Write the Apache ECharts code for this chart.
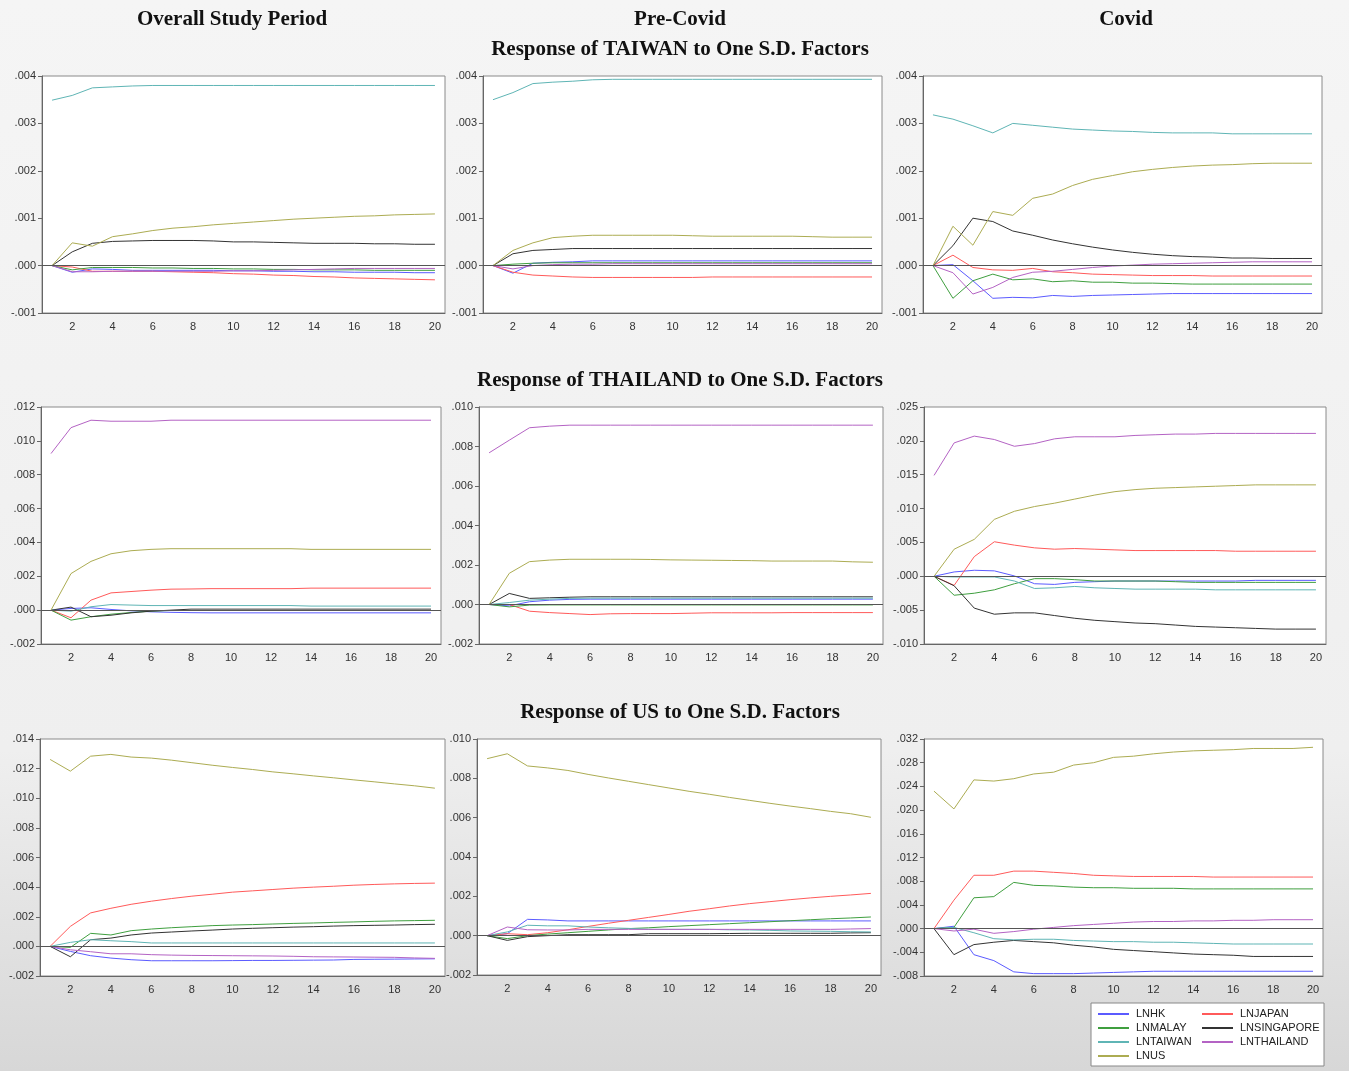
<!DOCTYPE html>
<html>
<head>
<meta charset="utf-8">
<title>Impulse responses</title>
<script src="https://cdn.jsdelivr.net/npm/echarts@6/dist/echarts.min.js"></script>
<style>
    html, body { margin: 0; padding: 0; }
    #main { width: 1349px; height: 1071px; }
</style>
</head>
<body>
<div id="main"></div>
<script>
// 系列名称与颜色 (order of rows inside each panel array)
var names = ['LNHK', 'LNJAPAN', 'LNMALAY', 'LNSINGAPORE', 'LNTAIWAN', 'LNTHAILAND', 'LNUS'];
var colors = ['#5b5bff', '#ff5a5a', '#3f9f3f', '#333333', '#5fb5b5', '#b463c4', '#acac52'];
var periods = ['1','2','3','4','5','6','7','8','9','10','11','12','13','14','15','16','17','18','19','20'];

var columnTitles = ['Overall Study Period', 'Pre-Covid', 'Covid'];
var rowTitles = ['Response of TAIWAN to One S.D. Factors', 'Response of THAILAND to One S.D. Factors', 'Response of US to One S.D. Factors'];

// y axis ranges per panel: [min, max, interval]
var yRanges = [
    [-0.001, 0.004, 0.001], [-0.001, 0.004, 0.001], [-0.001, 0.004, 0.001],
    [-0.002, 0.012, 0.002], [-0.002, 0.010, 0.002], [-0.010, 0.025, 0.005],
    [-0.002, 0.014, 0.002], [-0.002, 0.010, 0.002], [-0.008, 0.032, 0.004]
];

// 一 : TAIWAN - overall
var taiwanAll = [
    [0,-0.00014,-0.00007,-0.00008,-0.0001,-0.0001,-0.0001,-0.0001,-0.0001,-0.00011,-0.00011,-0.00012,-0.00012,-0.00013,-0.00013,-0.00014,-0.00014,-0.00014,-0.00015,-0.00015],
    [0,-0.00003,-0.00012,-0.00012,-0.00012,-0.00012,-0.00013,-0.00014,-0.00015,-0.00017,-0.00018,-0.0002,-0.00021,-0.00023,-0.00024,-0.00026,-0.00027,-0.00028,-0.00029,-0.0003],
    [0,-0.00009,-0.00004,-0.00004,-0.00004,-0.00005,-0.00005,-0.00006,-0.00006,-0.00007,-0.00007,-0.00008,-0.00008,-0.00009,-0.00009,-0.00009,-0.0001,-0.0001,-0.0001,-0.0001],
    [0,0.00029,0.00047,0.00051,0.00052,0.00053,0.00053,0.00053,0.00052,0.0005,0.0005,0.00049,0.00048,0.00047,0.00047,0.00047,0.00046,0.00046,0.00045,0.00045],
    [0.00349,0.00359,0.00375,0.00377,0.00379,0.0038,0.0038,0.0038,0.0038,0.0038,0.0038,0.0038,0.0038,0.0038,0.0038,0.0038,0.0038,0.0038,0.0038,0.0038],
    [0,-0.00013,-0.00013,-0.00012,-0.00012,-0.00012,-0.00012,-0.00012,-0.00012,-0.00011,-0.00011,-0.0001,-0.00009,-0.00008,-0.00007,-0.00006,-0.00006,-0.00006,-0.00006,-0.00006],
    [0,0.00048,0.00041,0.00061,0.00067,0.00074,0.00079,0.00082,0.00086,0.00089,0.00092,0.00095,0.00098,0.001,0.00102,0.00104,0.00105,0.00107,0.00108,0.00109]
];
// 二 : TAIWAN - pre-covid
var taiwanPre = [
    [0,-0.00016,0.00005,0.00007,0.00008,0.0001,0.0001,0.0001,0.0001,0.0001,0.0001,0.0001,0.0001,0.0001,0.0001,0.0001,0.0001,0.0001,0.0001,0.0001],
    [0,-0.00014,-0.0002,-0.00022,-0.00024,-0.00025,-0.00025,-0.00025,-0.00025,-0.00025,-0.00025,-0.00024,-0.00024,-0.00024,-0.00024,-0.00024,-0.00024,-0.00024,-0.00024,-0.00024],
    [0,0.00003,0.00005,0.00006,0.00006,0.00006,0.00006,0.00006,0.00006,0.00006,0.00006,0.00006,0.00006,0.00006,0.00006,0.00006,0.00006,0.00006,0.00006,0.00006],
    [0,0.00025,0.00032,0.00034,0.00036,0.00036,0.00036,0.00036,0.00036,0.00036,0.00036,0.00036,0.00036,0.00036,0.00036,0.00036,0.00036,0.00036,0.00036,0.00036],
    [0.0035,0.00365,0.00384,0.00387,0.00389,0.00392,0.00393,0.00393,0.00393,0.00393,0.00393,0.00393,0.00393,0.00393,0.00393,0.00393,0.00393,0.00393,0.00393,0.00393],
    [0,-0.00007,0,0.00002,0.00003,0.00003,0.00004,0.00004,0.00004,0.00004,0.00004,0.00004,0.00004,0.00004,0.00004,0.00004,0.00004,0.00004,0.00004,0.00004],
    [0,0.00032,0.00048,0.00059,0.00062,0.00064,0.00064,0.00064,0.00064,0.00064,0.00063,0.00062,0.00062,0.00062,0.00062,0.00062,0.00061,0.0006,0.0006,0.0006]
];
// 三 : TAIWAN - covid
var taiwanCovid = [
    [0,0.00002,-0.00032,-0.00069,-0.00067,-0.00068,-0.00063,-0.00065,-0.00063,-0.00062,-0.00061,-0.0006,-0.00059,-0.00059,-0.00059,-0.00059,-0.00059,-0.00059,-0.00059,-0.00059],
    [0,0.00022,-0.00004,-0.00009,-0.0001,-0.00006,-0.00013,-0.00015,-0.00018,-0.00019,-0.0002,-0.00021,-0.00021,-0.00021,-0.00022,-0.00022,-0.00022,-0.00022,-0.00022,-0.00022],
    [0,-0.00069,-0.00032,-0.00018,-0.0003,-0.00028,-0.00034,-0.00032,-0.00035,-0.00035,-0.00037,-0.00037,-0.00038,-0.00039,-0.00039,-0.00039,-0.00039,-0.00039,-0.00039,-0.00039],
    [0,0.00042,0.001,0.00093,0.00073,0.00064,0.00054,0.00046,0.00039,0.00033,0.00028,0.00024,0.00021,0.00019,0.00018,0.00016,0.00016,0.00015,0.00015,0.00015],
    [0.00318,0.00309,0.00295,0.0028,0.003,0.00296,0.00292,0.00288,0.00286,0.00284,0.00283,0.00281,0.0028,0.0028,0.0028,0.00278,0.00278,0.00278,0.00278,0.00278],
    [0,-0.00015,-0.0006,-0.00046,-0.00025,-0.00014,-0.00012,-0.00008,-0.00004,-0.00001,0.00001,0.00003,0.00004,0.00005,0.00006,0.00007,0.00008,0.00008,0.00008,0.00008],
    [0,0.00083,0.00043,0.00114,0.00106,0.00142,0.00151,0.00169,0.00182,0.0019,0.00198,0.00203,0.00207,0.0021,0.00212,0.00213,0.00215,0.00216,0.00216,0.00216]
];
// 四 : THAILAND - overall
var thailandAll = [
    [0,0.0001,0.00014,0.00004,-0.00004,-0.0001,-0.00013,-0.00015,-0.00016,-0.00016,-0.00016,-0.00016,-0.00016,-0.00016,-0.00016,-0.00016,-0.00016,-0.00016,-0.00016,-0.00016],
    [0,-0.00045,0.00059,0.00102,0.0011,0.00118,0.00124,0.00125,0.00127,0.00127,0.00127,0.00127,0.00127,0.0013,0.0013,0.0013,0.0013,0.0013,0.0013,0.0013],
    [0,-0.00059,-0.00039,-0.00024,-0.00014,-0.00006,-0.00002,-0.00002,-0.00002,-0.00002,-0.00002,-0.00002,-0.00002,-0.00002,-0.00002,-0.00002,-0.00002,-0.00002,-0.00002,-0.00002],
    [0,0.00018,-0.00039,-0.0003,-0.00016,-0.00006,0,0.00006,0.00006,0.00006,0.00006,0.00006,0.00006,0.00006,0.00006,0.00006,0.00006,0.00006,0.00006,0.00006],
    [0,-0.00006,0.0002,0.00033,0.0003,0.00027,0.00027,0.00027,0.00027,0.00027,0.00027,0.00027,0.00027,0.00024,0.00024,0.00024,0.00024,0.00024,0.00024,0.00024],
    [0.00925,0.01078,0.01122,0.01116,0.01116,0.01116,0.01122,0.01122,0.01122,0.01122,0.01122,0.01122,0.01122,0.01122,0.01122,0.01122,0.01122,0.01122,0.01122,0.01122],
    [0,0.00216,0.00288,0.00333,0.00351,0.00359,0.00363,0.00363,0.00363,0.00363,0.00363,0.00363,0.00363,0.00359,0.00359,0.00359,0.00359,0.00359,0.00359,0.00359]
];
// 五 : THAILAND - pre-covid
var thailandPre = [
    [0,-0.00007,0.00014,0.00022,0.00026,0.00027,0.00027,0.00027,0.00027,0.00027,0.00027,0.00027,0.00027,0.00027,0.00027,0.00027,0.00027,0.00027,0.00027,0.00027],
    [0,0,-0.00034,-0.00041,-0.00046,-0.00051,-0.00047,-0.00046,-0.00046,-0.00046,-0.00044,-0.00042,-0.00042,-0.00042,-0.00042,-0.00041,-0.00041,-0.00041,-0.00041,-0.00041],
    [0,-0.00012,-0.00003,-0.00002,-0.00002,-0.00002,-0.00002,-0.00002,-0.00002,-0.00002,-0.00002,-0.00002,-0.00002,-0.00002,-0.00002,-0.00002,-0.00002,-0.00002,-0.00002,-0.00002],
    [0,0.00056,0.00031,0.00034,0.00037,0.00039,0.00039,0.00039,0.00039,0.00039,0.00039,0.00039,0.00039,0.00039,0.00039,0.00039,0.00039,0.00039,0.00039,0.00039],
    [0,0.0001,0.00022,0.00027,0.00031,0.00032,0.00032,0.00032,0.00032,0.00032,0.00032,0.00032,0.00032,0.00032,0.00032,0.00032,0.00032,0.00032,0.00032,0.00032],
    [0.00768,0.00832,0.00895,0.00903,0.00908,0.00908,0.00908,0.00908,0.00908,0.00908,0.00908,0.00908,0.00908,0.00908,0.00908,0.00908,0.00908,0.00908,0.00908,0.00908],
    [0,0.00158,0.00217,0.00225,0.00229,0.00229,0.00229,0.00229,0.00228,0.00226,0.00225,0.00224,0.00223,0.00222,0.0022,0.0022,0.0022,0.0022,0.00216,0.00214]
];
// 六 : THAILAND - covid
var thailandCovid = [
    [0,0.00064,0.00089,0.0008,0.00005,-0.0011,-0.0012,-0.0009,-0.0008,-0.0007,-0.0007,-0.0007,-0.0007,-0.0007,-0.0007,-0.0007,-0.0006,-0.0006,-0.0006,-0.0006],
    [0,-0.00134,0.0029,0.0051,0.0046,0.0042,0.004,0.0041,0.004,0.0039,0.0038,0.0038,0.0038,0.0038,0.0038,0.0037,0.0037,0.0037,0.0037,0.0037],
    [0,-0.0028,-0.0025,-0.002,-0.0011,-0.00035,-0.00035,-0.0005,-0.0007,-0.0007,-0.0007,-0.0007,-0.0008,-0.0009,-0.0009,-0.0009,-0.0009,-0.0009,-0.0009,-0.0009],
    [0,-0.0014,-0.0047,-0.0056,-0.0054,-0.0054,-0.0058,-0.0062,-0.0065,-0.0067,-0.0069,-0.007,-0.0072,-0.0074,-0.0075,-0.0076,-0.0077,-0.0078,-0.0078,-0.0078],
    [0,-0.0001,-0.0001,-0.0001,-0.0007,-0.0018,-0.0017,-0.0015,-0.0017,-0.0018,-0.0019,-0.0019,-0.0019,-0.0019,-0.002,-0.002,-0.002,-0.002,-0.002,-0.002],
    [0.0149,0.0197,0.0207,0.0202,0.0192,0.0196,0.0203,0.0206,0.0206,0.0206,0.0208,0.0209,0.021,0.021,0.0211,0.0211,0.0211,0.0211,0.0211,0.0211],
    [0,0.004,0.00545,0.0084,0.0096,0.0103,0.0108,0.0114,0.012,0.0125,0.0128,0.013,0.0131,0.0132,0.0133,0.0134,0.0135,0.0135,0.0135,0.0135]
];
// 七 : US - overall
var usAll = [
    [0,-0.00034,-0.00063,-0.00079,-0.0009,-0.00097,-0.00097,-0.00097,-0.00097,-0.00096,-0.00095,-0.00095,-0.00094,-0.00093,-0.00092,-0.00088,-0.00087,-0.00086,-0.00085,-0.00084],
    [0,0.00135,0.00226,0.00257,0.00284,0.00305,0.00323,0.00339,0.00352,0.00366,0.00375,0.00384,0.00393,0.004,0.00406,0.00413,0.00418,0.00422,0.00425,0.00427],
    [0,-0.00007,0.00088,0.00077,0.00106,0.00117,0.00126,0.00133,0.0014,0.00144,0.00147,0.00151,0.00155,0.00158,0.00162,0.00165,0.00169,0.00172,0.00174,0.00176],
    [0,-0.0007,0.00045,0.00056,0.00077,0.0009,0.00097,0.00104,0.0011,0.00117,0.00122,0.00126,0.0013,0.00133,0.00137,0.0014,0.00142,0.00144,0.00147,0.00149],
    [0,0.00027,0.00045,0.00038,0.00032,0.00023,0.00023,0.00023,0.00023,0.00023,0.00023,0.00023,0.00023,0.00023,0.00023,0.00023,0.00023,0.00023,0.00023,0.00023],
    [0,-0.00023,-0.00036,-0.0005,-0.0005,-0.00056,-0.00059,-0.00061,-0.00062,-0.00063,-0.00064,-0.00065,-0.00067,-0.0007,-0.00071,-0.00072,-0.00073,-0.00074,-0.00078,-0.00081],
    [0.01262,0.01183,0.01284,0.01296,0.01278,0.01271,0.01257,0.0124,0.01223,0.01208,0.01194,0.01178,0.01165,0.01151,0.01138,0.01124,0.01111,0.01097,0.01084,0.01068]
];
// 八 : US - pre-covid
var usPre = [
    [0,0.0001,0.00083,0.0008,0.00075,0.00075,0.00075,0.00075,0.00075,0.00075,0.00075,0.00075,0.00075,0.00075,0.00075,0.00075,0.00075,0.00075,0.00075,0.00075],
    [0,0.0001,0.00005,0.00015,0.0003,0.00047,0.00063,0.00078,0.00093,0.00108,0.00124,0.00137,0.00151,0.00163,0.00173,0.00183,0.00192,0.002,0.00207,0.00215],
    [0,-0.00015,0,0.00008,0.00015,0.00022,0.00029,0.00036,0.0004,0.00046,0.00051,0.00056,0.00061,0.00066,0.00071,0.00076,0.00081,0.00086,0.0009,0.00095],
    [0,-0.00024,-0.00005,0,0.00005,0.00005,0.00005,0.00005,0.0001,0.0001,0.0001,0.0001,0.00011,0.00012,0.00012,0.00012,0.00012,0.00012,0.00014,0.00015],
    [0,0.00019,0.00053,0.0005,0.0005,0.00044,0.0004,0.00037,0.00032,0.00032,0.00032,0.00032,0.0003,0.00029,0.00027,0.00024,0.00023,0.00022,0.0002,0.00019],
    [0,0.00044,0.0003,0.00029,0.00029,0.00032,0.00032,0.00032,0.00032,0.00032,0.00032,0.00032,0.00032,0.00032,0.00032,0.00032,0.00032,0.00032,0.00034,0.00036],
    [0.009,0.00925,0.00863,0.00853,0.0084,0.0082,0.00802,0.00785,0.00768,0.00751,0.00734,0.00719,0.00703,0.00688,0.00673,0.00659,0.00646,0.00632,0.0062,0.00602]
];
// 九 : US - covid
var usCovid = [
    [0,0.0004,-0.0044,-0.0054,-0.0073,-0.0076,-0.0076,-0.0076,-0.0075,-0.0074,-0.0073,-0.0072,-0.0072,-0.0072,-0.0072,-0.0072,-0.0072,-0.0072,-0.0072,-0.0072],
    [0,0.0048,0.009,0.009,0.0097,0.0097,0.0095,0.0093,0.009,0.0089,0.0088,0.0088,0.0088,0.0088,0.0087,0.0087,0.0087,0.0087,0.0087,0.0087],
    [0,0.0002,0.0052,0.0054,0.0078,0.0073,0.0072,0.007,0.0069,0.0069,0.0068,0.0068,0.0068,0.0067,0.0067,0.0067,0.0067,0.0067,0.0067,0.0067],
    [0,-0.0044,-0.0027,-0.0023,-0.002,-0.0022,-0.0024,-0.0028,-0.0031,-0.0035,-0.0037,-0.0039,-0.0041,-0.0043,-0.0044,-0.0045,-0.0047,-0.0047,-0.0047,-0.0047],
    [0,0.0002,-0.0007,-0.0017,-0.0019,-0.0018,-0.0018,-0.002,-0.0021,-0.0022,-0.0022,-0.0023,-0.0023,-0.0024,-0.0025,-0.0026,-0.0026,-0.0026,-0.0026,-0.0026],
    [0,-0.0004,-0.0001,-0.0008,-0.0005,-0.0001,0.0002,0.0005,0.0007,0.0009,0.0011,0.0012,0.0012,0.0013,0.0013,0.0014,0.0014,0.0015,0.0015,0.0015],
    [0.0232,0.0202,0.0251,0.0249,0.0253,0.0261,0.0264,0.0276,0.028,0.0289,0.0291,0.0295,0.0298,0.03,0.0301,0.0302,0.0304,0.0304,0.0304,0.0306]
];

var panels = [taiwanAll, taiwanPre, taiwanCovid, thailandAll, thailandPre, thailandCovid, usAll, usPre, usCovid];

// 各面板的绘图区 (left, top, width, height)
var boxes = [
    [42, 76, 403, 237], [483, 76, 399, 237], [923, 76, 399, 237],
    [41, 407, 400, 237], [479, 407, 404, 237], [924, 407, 402, 237],
    [40, 739, 405, 237], [477, 739, 404, 236], [924, 739, 399, 237]
];
var colCenters = [232, 680, 1126];
var rowTitleY = [50, 381, 713];

function fmt(v) {
    // EViews style: .004, -.001, .000
    return v.toFixed(3).replace('0.', '.');
}

(function () {
    var myChart = echarts.init(document.getElementById('main'));

    var grid = [], xAxis = [], yAxis = [], series = [], graphic = [];

    for (var p = 0; p < panels.length; p++) {
        var b = boxes[p];
        grid.push({
            left: b[0], top: b[1], width: b[2], height: b[3],
            show: true, backgroundColor: '#ffffff', borderColor: '#8a8a8a', borderWidth: 1
        });
        xAxis.push({
            type: 'category', gridIndex: p, data: periods, boundaryGap: true,
            axisLine: { onZero: false, lineStyle: { color: '#666' } },
            axisTick: { interval: 0, length: 5, lineStyle: { color: '#666' } },
            axisLabel: {
                interval: function (i) { return i % 2 === 1; },
                color: '#333', fontSize: 11, fontFamily: 'Liberation Sans', margin: 8
            }
        });
        yAxis.push({
            type: 'value', gridIndex: p,
            min: yRanges[p][0], max: yRanges[p][1], interval: yRanges[p][2],
            splitLine: { show: false },
            axisLine: { show: true, lineStyle: { color: '#666' } },
            axisTick: { show: true, length: 4, lineStyle: { color: '#666' } },
            axisLabel: { formatter: fmt, color: '#333', fontSize: 11, fontFamily: 'Liberation Sans', margin: 6 }
        });
        for (var i = 0; i < names.length; i++) {
            var s = {
                name: names[i], type: 'line', xAxisIndex: p, yAxisIndex: p,
                data: panels[p][i], symbol: 'none', animation: false,
                lineStyle: { width: 1, color: colors[i] },
                itemStyle: { color: colors[i] }
            };
            if (i === 0) {
                // 零线
                s.markLine = {
                    silent: true, symbol: 'none', animation: false,
                    label: { show: false },
                    lineStyle: { color: '#555', width: 1, type: 'solid' },
                    data: [{ yAxis: 0 }]
                };
            }
            series.push(s);
        }
    }

    // 标题
    for (var c = 0; c < columnTitles.length; c++) {
        graphic.push({
            type: 'text', x: colCenters[c], y: 20,
            style: { text: columnTitles[c], textAlign: 'center', textVerticalAlign: 'middle',
                     font: 'bold 21px "Liberation Serif"', fill: '#111' }
        });
    }
    for (var r = 0; r < rowTitles.length; r++) {
        graphic.push({
            type: 'text', x: 680, y: rowTitleY[r],
            style: { text: rowTitles[r], textAlign: 'center', textVerticalAlign: 'middle',
                     font: 'bold 21px "Liberation Serif"', fill: '#111' }
        });
    }
    // 图例外框
    graphic.push({
        type: 'rect', z: 1,
        shape: { x: 1091, y: 1003, width: 233, height: 63 },
        style: { fill: '#ffffff', stroke: '#888', lineWidth: 1 }
    });

    var legendBase = {
        orient: 'vertical', top: 1007, height: 60, padding: 0, itemGap: 0,
        itemWidth: 31, itemHeight: 2, icon: 'rect', z: 5,
        textStyle: { fontSize: 11, fontFamily: 'Liberation Sans', color: '#222', lineHeight: 14, padding: [0, 0, 0, 2] }
    };

    var option = {
        backgroundColor: new echarts.graphic.LinearGradient(0, 0, 0, 1, [
            { offset: 0, color: '#f5f5f5' },
            { offset: 0.7, color: '#efefef' },
            { offset: 1, color: '#d7d7d7' }
        ]),
        animation: false,
        grid: grid,
        xAxis: xAxis,
        yAxis: yAxis,
        legend: [
            Object.assign({}, legendBase, { left: 1098, data: ['LNHK', 'LNMALAY', 'LNTAIWAN', 'LNUS'] }),
            Object.assign({}, legendBase, { left: 1202, data: ['LNJAPAN', 'LNSINGAPORE', 'LNTHAILAND'] })
        ],
        graphic: graphic,
        series: series
    };
    myChart.setOption(option);
})();
</script>
</body>
</html>
